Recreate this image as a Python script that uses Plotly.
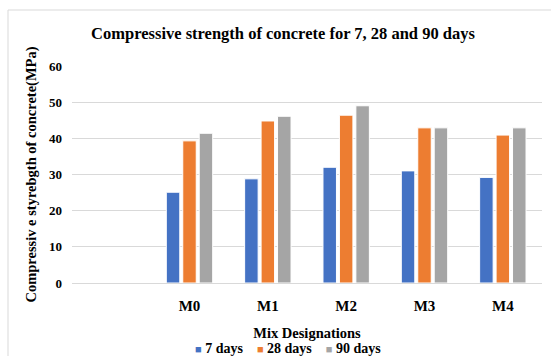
import plotly.graph_objects as go

mixes = ["M0", "M1", "M2", "M3", "M4"]
days7 = [25.1, 28.8, 32.0, 31.0, 29.2]
days28 = [39.3, 44.8, 46.4, 42.9, 40.9]
days90 = [41.4, 46.1, 49.0, 42.9, 42.9]
series_names = ["7 days", "28 days", "90 days"]
colors = ["#4472C4", "#ED7D31", "#A5A5A5"]

FONT = "Liberation Serif"

fig = go.Figure()
for name, vals, c in zip(series_names, [days7, days28, days90], colors):
    fig.add_trace(go.Bar(
        x=mixes, y=vals, name=name,
        marker=dict(color=c, line=dict(color="white", width=1)),
        showlegend=False,
    ))

legend_text = "    ".join(
    f"<span style='color:{c};font-size:11px'>■</span> <b>{n}</b>" for n, c in zip(series_names, colors)
)

fig.update_layout(
    width=551, height=356,
    margin=dict(l=72, r=9, t=66, b=73, autoexpand=False),
    paper_bgcolor="white", plot_bgcolor="white",
    barmode="group", bargap=0.37, bargroupgap=0.18,
    font=dict(family=FONT, color="#262626", size=13),
    title=dict(text="<b>Compressive strength of concrete for 7, 28 and 90 days</b>",
               x=283/551, xanchor="center", y=1-33/356, yanchor="middle",
               font=dict(family=FONT, size=16.5, color="#000000")),
    showlegend=False,
)
fig.add_annotation(text=legend_text, xref="paper", yref="paper",
                   x=(288-72)/470, y=(283-348.5)/217, xanchor="center", yanchor="middle",
                   showarrow=False, font=dict(family=FONT, size=14, color="#000000"))
fig.update_xaxes(
    type="category", range=[-1.5, 4.5], automargin=False,
    showline=True, linecolor="#d9d9d9", linewidth=1,
    showgrid=False, ticks="", ticklabelstandoff=9,
    tickfont=dict(family=FONT, size=15, color="#000000"),
    tickprefix="<b>", ticksuffix="</b>",
    title=dict(text="<b>Mix Designations</b>", standoff=14,
               font=dict(family=FONT, size=14.5, color="#000000")),
)
fig.update_yaxes(
    range=[0, 60], dtick=10, showgrid=True, gridcolor="#d9d9d9", gridwidth=1,
    zeroline=False, showline=False, ticks="", ticklabelstandoff=9, automargin=False,
    tickfont=dict(family=FONT, size=13, color="#000000"),
    tickprefix="<b>", ticksuffix="</b>",
    title=dict(text="<b>Compressiv e styrebgth of concrete(MPa)</b>", standoff=8,
               font=dict(family=FONT, size=14.5, color="#000000")),
)
fig.add_shape(type="rect", xref="paper", yref="paper",
              x0=(8-72)/470, x1=(560-72)/470, y0=(283-370)/217, y1=(283-10)/217,
              line=dict(color="#d9d9d9", width=1), fillcolor="rgba(0,0,0,0)", layer="below")

fig.write_html("out.html", config={"displayModeBar": False},
               post_script="document.body.style.margin='0';")
